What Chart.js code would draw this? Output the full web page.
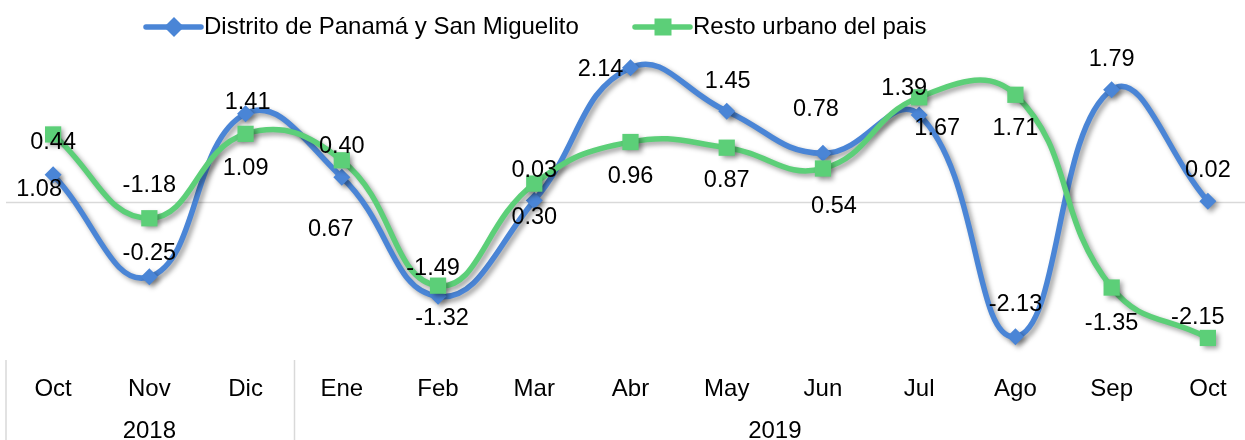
<!DOCTYPE html>
<html><head><meta charset="utf-8">
<script src="https://cdn.jsdelivr.net/npm/chart.js@4.4.0/dist/chart.umd.min.js"></script>
<style>
html,body{margin:0;padding:0;background:#fff;overflow:hidden;}
#wrap{width:1262px;height:440px;position:relative;}
</style>
</head><body>
<div id="wrap"><canvas id="c"></canvas></div>
<script>
// ---- data ----
const months = ['Oct','Nov','Dic','Ene','Feb','Mar','Abr','May','Jun','Jul','Ago','Sep','Oct'];
const yearLabels = ['2018','2019'];
const yearFirstIndex = [0, 3];
const yearLastIndex = [2, 12];
const seriesNames = ['Distrito de Panamá y San Miguelito', 'Resto urbano del pais'];
const panamaValues = [0.44, -1.18, 1.41, 0.40, -1.49, 0.03, 2.14, 1.45, 0.78, 1.39, -2.13, 1.79, 0.02];
const restoValues  = [1.08, -0.25, 1.09, 0.67, -1.32, 0.30, 0.96, 0.87, 0.54, 1.67, 1.71, -1.35, -2.15];

// ---- label placement (px offsets from each point) ----
const panamaLabelOffsets = [[0,-32],[0,-91],[2,-11],[0,-31],[-5,-28],[0,-30],[-30,2],[1,-30],[-7,-44],[-15,-26],[0,-32],[0,-30],[0,-31]];
const restoLabelOffsets  = [[-14,55],[0,35],[0,35],[-11,69],[4,33],[0,34],[0,34],[0,33],[11,38],[18,31],[0,34],[0,36],[-10,-20]];

const BLUE = '#4a85d6';
const GREEN = '#5ccf78';
const FONT = "'Liberation Sans', Arial, sans-serif";
const GRID = '#d9d9d9';

function diamond(ctx, x, y, r){ ctx.beginPath(); ctx.moveTo(x, y-r); ctx.lineTo(x+r, y); ctx.lineTo(x, y+r); ctx.lineTo(x-r, y); ctx.closePath(); ctx.fill(); }
function square(ctx, x, y, h){ ctx.fillRect(x-h, y-h, 2*h, 2*h); }

const shadowPlugin = {
  id: 'shadow',
  beforeDatasetDraw(chart){ const ctx = chart.ctx; ctx.save(); ctx.shadowColor = 'rgba(0,0,0,0.38)'; ctx.shadowBlur = 5; ctx.shadowOffsetX = 3; ctx.shadowOffsetY = 3; },
  afterDatasetDraw(chart){ chart.ctx.restore(); }
};

const decoPlugin = {
  id: 'deco',
  beforeDatasetsDraw(chart){
    const ctx = chart.ctx, xs = chart.scales.x, ys = chart.scales.y, a = chart.chartArea;
    ctx.save();
    // zero line
    const y0 = ys.getPixelForValue(0);
    ctx.strokeStyle = GRID; ctx.lineWidth = 1.5;
    ctx.beginPath(); ctx.moveTo(a.left + 1, y0); ctx.lineTo(a.right, y0); ctx.stroke();
    // group separators of category axis
    const half = (xs.getPixelForValue(1) - xs.getPixelForValue(0)) / 2;
    ctx.lineWidth = 1.5;
    const seps = new Set();
    yearFirstIndex.forEach((f, i) => { seps.add(Math.round((xs.getPixelForValue(f) - half)*2)/2); seps.add(Math.round((xs.getPixelForValue(yearLastIndex[i]) + half)*2)/2); });
    seps.forEach(x => { ctx.beginPath(); ctx.moveTo(x + 1, a.bottom); ctx.lineTo(x + 1, chart.height); ctx.stroke(); });
    // category labels
    ctx.fillStyle = '#000'; ctx.font = '24px ' + FONT; ctx.textAlign = 'center'; ctx.textBaseline = 'middle';
    months.forEach((m, i) => ctx.fillText(m, xs.getPixelForValue(i), 389));
    yearLabels.forEach((yl, i) => {
      const cx = (xs.getPixelForValue(yearFirstIndex[i]) + xs.getPixelForValue(yearLastIndex[i])) / 2;
      ctx.fillText(yl, cx, 431);
    });
    ctx.restore();
  },
  afterDatasetsDraw(chart){
    const ctx = chart.ctx;
    ctx.save();
    ctx.fillStyle = '#000'; ctx.font = '23.5px ' + FONT; ctx.textAlign = 'center'; ctx.textBaseline = 'middle';
    const sets = [[1, panamaValues, panamaLabelOffsets], [0, restoValues, restoLabelOffsets]];
    sets.forEach(([di, vals, offs]) => {
      const meta = chart.getDatasetMeta(di);
      meta.data.forEach((pt, i) => {
        ctx.fillText(vals[i].toFixed(2), pt.x + offs[i][0], pt.y + offs[i][1]);
      });
    });
    ctx.restore();
  },
  afterDraw(chart){
    const ctx = chart.ctx;
    ctx.save();
    const ly = 27;
    ctx.lineWidth = 5.5; ctx.lineCap = 'round';
    // blue entry
    ctx.strokeStyle = BLUE; ctx.beginPath(); ctx.moveTo(146, ly); ctx.lineTo(201, ly); ctx.stroke();
    ctx.fillStyle = BLUE; diamond(ctx, 174, ly, 10);
    // green entry
    ctx.strokeStyle = GREEN; ctx.beginPath(); ctx.moveTo(635, ly); ctx.lineTo(690, ly); ctx.stroke();
    ctx.fillStyle = GREEN; square(ctx, 663, ly, 8.5);
    ctx.fillStyle = '#000'; ctx.font = '24px ' + FONT; ctx.textAlign = 'left'; ctx.textBaseline = 'middle';
    ctx.fillText(seriesNames[0], 204, ly);
    ctx.fillText(seriesNames[1], 693, ly);
    ctx.restore();
  }
};

new Chart(document.getElementById('c'), {
  type: 'line',
  data: {
    labels: months,
    datasets: [
      { label: seriesNames[1], data: restoValues, borderColor: GREEN, backgroundColor: GREEN,
        borderWidth: 5.5, tension: 0.45, pointStyle: 'rect', pointRadius: 11.5, pointBorderWidth: 0,
        pointBackgroundColor: GREEN, clip: false, fill: false },
      { label: seriesNames[0], data: panamaValues, borderColor: BLUE, backgroundColor: BLUE,
        borderWidth: 5.5, tension: 0.45, pointStyle: 'rectRot', pointRadius: 8.5, pointBorderWidth: 0,
        pointBackgroundColor: BLUE, clip: false, fill: false }
    ]
  },
  options: {
    responsive: true, maintainAspectRatio: false, animation: false, devicePixelRatio: 1,
    layout: { autoPadding: false, padding: { left: 5, right: 6, top: 45, bottom: 80 } },
    plugins: { legend: { display: false }, tooltip: { enabled: false }, title: { display: false } },
    scales: {
      x: { type: 'category', offset: true, display: false },
      y: { min: -2.5, max: 2.5, display: false }
    }
  },
  plugins: [shadowPlugin, decoPlugin]
});
</script>
</body></html>
